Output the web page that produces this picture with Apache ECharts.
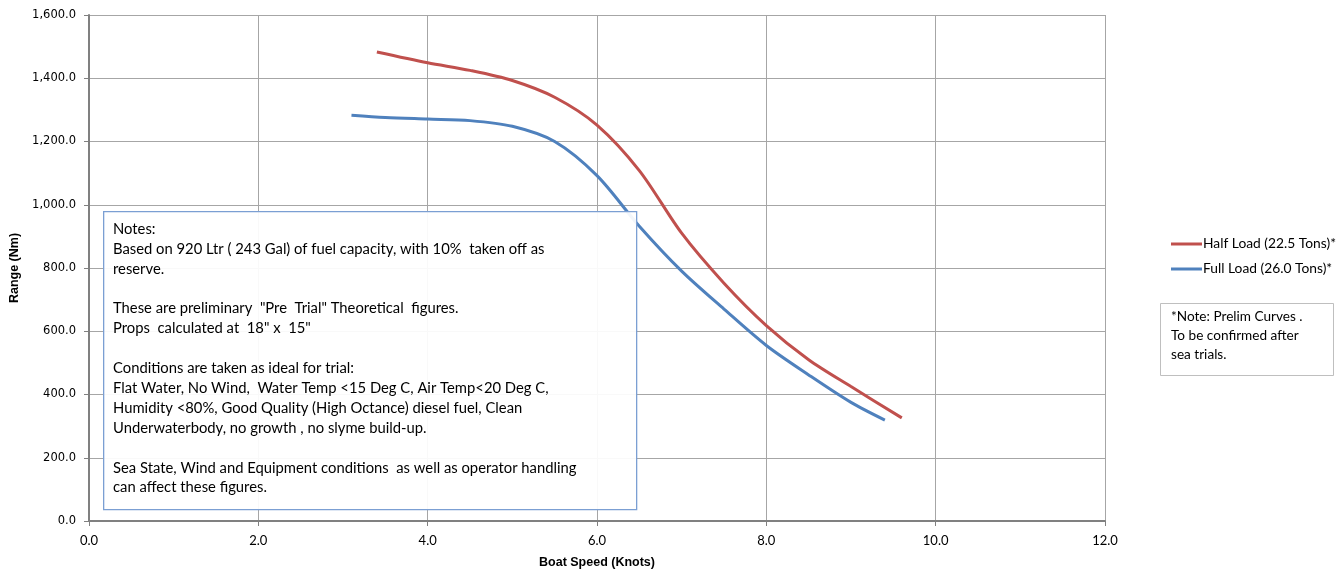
<!DOCTYPE html>
<html>
<head>
<meta charset="utf-8">
<script src="https://cdn.jsdelivr.net/npm/echarts@6/dist/echarts.min.js"></script>
<style>html,body{margin:0;padding:0;background:#fff;}#c{width:1338px;height:571px;}</style>
</head>
<body>
<div id="c"></div>
<script>
var halfSpeed = [3.4, 4.0, 4.5, 5.0, 5.5, 6.0, 6.5, 7.0, 7.5, 8.0, 8.5, 9.0, 9.6];
var halfRange = [1483, 1449, 1425, 1393, 1340, 1252, 1108, 910, 752, 618, 510, 425, 326];
var fullSpeed = [3.1, 3.5, 4.0, 4.5, 5.0, 5.5, 6.0, 6.5, 7.0, 7.5, 8.0, 8.5, 9.0, 9.4];
var fullRange = [1283, 1276, 1271, 1266, 1248, 1200, 1092, 932, 790, 670, 555, 462, 375, 319];
var seriesNames = ['Half Load (22.5 Tons)*', 'Full Load (26.0 Tons)*'];
var notesLines = [
  'Notes:',
  'Based on 920 Ltr ( 243 Gal) of fuel capacity, with 10%  taken off as',
  'reserve.',
  '',
  'These are preliminary  "Pre  Trial" Theoretical  figures.',
  'Props  calculated at  18" x  15"',
  '',
  'Conditions are taken as ideal for trial:',
  'Flat Water, No Wind,  Water Temp <15 Deg C, Air Temp<20 Deg C,',
  'Humidity <80%, Good Quality (High Octance) diesel fuel, Clean',
  'Underwaterbody, no growth , no slyme build-up.',
  '',
  'Sea State, Wind and Equipment conditions  as well as operator handling',
  'can affect these figures.'
];
var prelimLines = ['*Note: Prelim Curves .', 'To be confirmed after', 'sea trials.'];

function zip(a, b) { return a.map(function (v, i) { return [v, b[i]]; }); }

var chart = echarts.init(document.getElementById('c'));
chart.setOption({
  animation: false,
  textStyle: { fontFamily: 'Liberation Sans, Arial, sans-serif' },
  grid: { left: 89, right: 233, top: 15, bottom: 50, containLabel: false, outerBoundsMode: 'none' },
  xAxis: {
    type: 'value', min: 0, max: 12, interval: 2,
    name: 'Boat Speed (Knots)', nameLocation: 'middle', nameGap: 35,
    nameTextStyle: { fontWeight: 'bold', fontSize: 12.5, color: '#000' },
    axisLine: { show: true, lineStyle: { color: '#808080', width: 2 } },
    axisTick: { show: true, length: 5, lineStyle: { color: '#808080' } },
    axisLabel: { color: '#000', fontSize: 13, fontFamily: 'Lato, sans-serif', margin: 13, formatter: function (v) { return v.toFixed(1); } },
    splitLine: { show: true, lineStyle: { color: '#a6a6a6', width: 1 } }
  },
  yAxis: {
    type: 'value', min: 0, max: 1600, interval: 200,
    name: 'Range (Nm)', nameLocation: 'middle', nameGap: 68, nameRotate: 90,
    nameTextStyle: { fontWeight: 'bold', fontSize: 12.5, color: '#000' },
    axisLine: { show: true, lineStyle: { color: '#808080', width: 2 } },
    axisTick: { show: true, length: 5, lineStyle: { color: '#808080' } },
    axisLabel: { color: '#000', fontSize: 11.5, fontFamily: 'DejaVu Sans, sans-serif', margin: 13, formatter: function (v) {
      return v.toLocaleString('en-US', { minimumFractionDigits: 1, maximumFractionDigits: 1 });
    } },
    splitLine: { show: true, lineStyle: { color: '#a6a6a6', width: 1 } }
  },
  legend: {
    orient: 'vertical', left: 1166, top: 232, itemGap: 11,
    icon: 'rect', itemWidth: 31, itemHeight: 3,
    textStyle: { color: '#000', fontSize: 13.8, fontFamily: 'Lato, sans-serif', padding: [0, 0, 0, -4] },
    data: seriesNames
  },
  series: [
    { name: seriesNames[0], type: 'line', data: zip(halfSpeed, halfRange), smooth: 0.3,
      showSymbol: false, symbol: 'none', lineStyle: { color: '#c0504d', width: 3 }, itemStyle: { color: '#c0504d' }, z: 3 },
    { name: seriesNames[1], type: 'line', data: zip(fullSpeed, fullRange), smooth: 0.3,
      showSymbol: false, symbol: 'none', lineStyle: { color: '#4f81bd', width: 3 }, itemStyle: { color: '#4f81bd' }, z: 3 }
  ],
  graphic: [
    { type: 'rect', left: 103, top: 211, z: 10,
      shape: { width: 533, height: 298 },
      style: { fill: 'rgba(255,255,255,0.93)', stroke: '#7b9fd3', lineWidth: 1.3 } },
    { type: 'text', left: 113, top: 219, z: 11,
      style: { text: notesLines.join('\n'), fill: '#000', font: '14.8px Lato, sans-serif', lineHeight: 19.9 } },
    { type: 'rect', left: 1160, top: 303, z: 10,
      shape: { width: 173, height: 72 },
      style: { fill: '#fff', stroke: '#bfbfbf', lineWidth: 1 } },
    { type: 'text', left: 1171, top: 307, z: 11,
      style: { text: prelimLines.join('\n'), fill: '#000', font: '13.6px Lato, sans-serif', lineHeight: 19 } }
  ]
});
</script>
</body>
</html>
